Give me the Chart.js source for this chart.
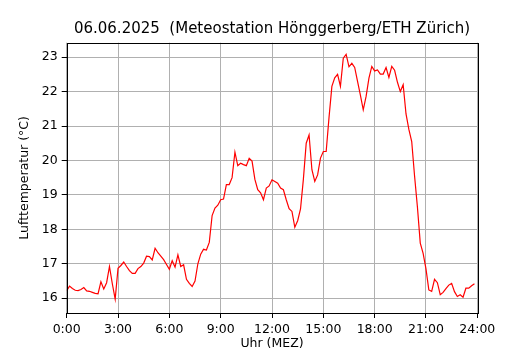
<!DOCTYPE html>
<html>
<head>
<meta charset="utf-8">
<script src="https://cdn.jsdelivr.net/npm/chart.js@4.4.0/dist/chart.umd.min.js"></script>
<style>
  html, body { margin:0; padding:0; background:#fff; }
</style>
</head>
<body>
<canvas id="chart" width="530" height="350"></canvas>
<script>
const titel   = '06.06.2025  (Meteostation Hönggerberg/ETH Zürich)';
const xTitel  = 'Uhr (MEZ)';
const yTitel  = 'Lufttemperatur (°C)';

// Stundenticks (alle 3 h)
const xTicks = [0, 3, 6, 9, 12, 15, 18, 21, 24];
const yTicks = [16, 17, 18, 19, 20, 21, 22, 23];

// 10-Minuten-Werte ab 0:00, eine Zeile pro Stunde
const temps = [
  16.22, 16.35, 16.28, 16.23, 16.22, 16.25,   // 0
  16.31, 16.21, 16.20, 16.17, 16.14, 16.13,   // 1
  16.48, 16.27, 16.45, 16.92, 16.42, 15.97,   // 2
  16.87, 16.95, 17.05, 16.92, 16.80, 16.72,   // 3
  16.72, 16.86, 16.92, 17.02, 17.22, 17.21,   // 4
  17.11, 17.45, 17.32, 17.22, 17.12, 16.98,   // 5
  16.84, 17.09, 16.90, 17.26, 16.92, 16.97,   // 6
  16.55, 16.43, 16.34, 16.50, 17.00, 17.28,   // 7
  17.42, 17.40, 17.62, 18.40, 18.62, 18.70,   // 8
  18.86, 18.88, 19.30, 19.30, 19.50, 20.24,   // 9
  19.85, 19.92, 19.88, 19.85, 20.06, 19.98,   // 10
  19.45, 19.15, 19.06, 18.86, 19.20, 19.26,   // 11
  19.44, 19.39, 19.34, 19.20, 19.15, 18.86,   // 12
  18.60, 18.52, 18.06, 18.25, 18.59, 19.45,   // 13
  20.50, 20.74, 19.73, 19.39, 19.58, 20.07,   // 14
  20.26, 20.26, 21.25, 22.15, 22.40, 22.50,   // 15
  22.15, 22.97, 23.08, 22.72, 22.82, 22.70,   // 16
  22.30, 21.90, 21.47, 21.86, 22.39, 22.73,   // 17
  22.60, 22.63, 22.51, 22.51, 22.70, 22.41,   // 18
  22.73, 22.62, 22.27, 22.00, 22.20, 21.35,   // 19
  20.90, 20.55, 19.55, 18.65, 17.60, 17.30,   // 20
  16.85, 16.24, 16.20, 16.55, 16.45, 16.10,   // 21
  16.17, 16.28, 16.38, 16.43, 16.19, 16.05,   // 22
  16.10, 16.03, 16.29, 16.29, 16.36, 16.42    // 23
];
const stunden = temps.map((_, i) => i / 6);

const FONT = 'DejaVu Sans';
const tickFont = { family: FONT, size: 12.5 };

// Rahmen + Texte wie bei matplotlib
const rahmen = {
  id: 'rahmen',
  afterDraw(chart){
    const { ctx, chartArea: a } = chart;
    ctx.save();
    ctx.strokeStyle = '#000';
    ctx.lineWidth = 1;
    ctx.strokeRect(Math.round(a.left) + 0.5, Math.round(a.top) + 0.5,
                   Math.round(a.right - a.left), Math.round(a.bottom - a.top));
    const mitte = (a.left + a.right) / 2;
    ctx.fillStyle = '#000';
    ctx.textAlign = 'center';
    ctx.textBaseline = 'middle';
    ctx.font = `15px "${FONT}"`;
    ctx.fillText(titel, mitte, 29);
    ctx.font = `12.5px "${FONT}"`;
    ctx.fillText(xTitel, mitte, 344);
    ctx.translate(25, (a.top + a.bottom) / 2);
    ctx.rotate(-Math.PI / 2);
    ctx.fillText(yTitel, 0, 0);
    ctx.restore();
  }
};

new Chart(document.getElementById('chart'), {
  type: 'line',
  data: {
    datasets: [{
      data: stunden.map((h, i) => ({ x: h, y: temps[i] })),
      borderColor: '#ff0000',
      borderWidth: 1.2,
      pointRadius: 0,
      tension: 0,
      fill: false
    }]
  },
  options: {
    responsive: false,
    animation: false,
    devicePixelRatio: 1,
    layout: { padding: { left: 0, right: 52.7, top: 42.7, bottom: 0 } },
    plugins: { legend: { display: false }, title: { display: false }, tooltip: { enabled: false } },
    scales: {
      x: {
        type: 'linear', min: 0, max: 24,
        afterBuildTicks: s => { s.ticks = xTicks.map(v => ({ value: v })); },
        afterFit: s => { s.height = 37; },
        ticks: { font: tickFont, color: '#000', padding: 4, maxRotation: 0,
                 callback: v => v + ':00' },
        grid: { color: '#b0b0b0', lineWidth: 1, tickColor: '#000', tickLength: 5 },
        border: { display: false }
      },
      y: {
        min: 15.57, max: 23.42,
        afterBuildTicks: s => { s.ticks = yTicks.map(v => ({ value: v })); },
        afterFit: s => { s.width = 66.7; },
        ticks: { font: tickFont, color: '#000', padding: 4 },
        grid: { color: '#b0b0b0', lineWidth: 1, tickColor: '#000', tickLength: 5 },
        border: { display: false }
      }
    }
  },
  plugins: [rahmen]
});
</script>
</body>
</html>
